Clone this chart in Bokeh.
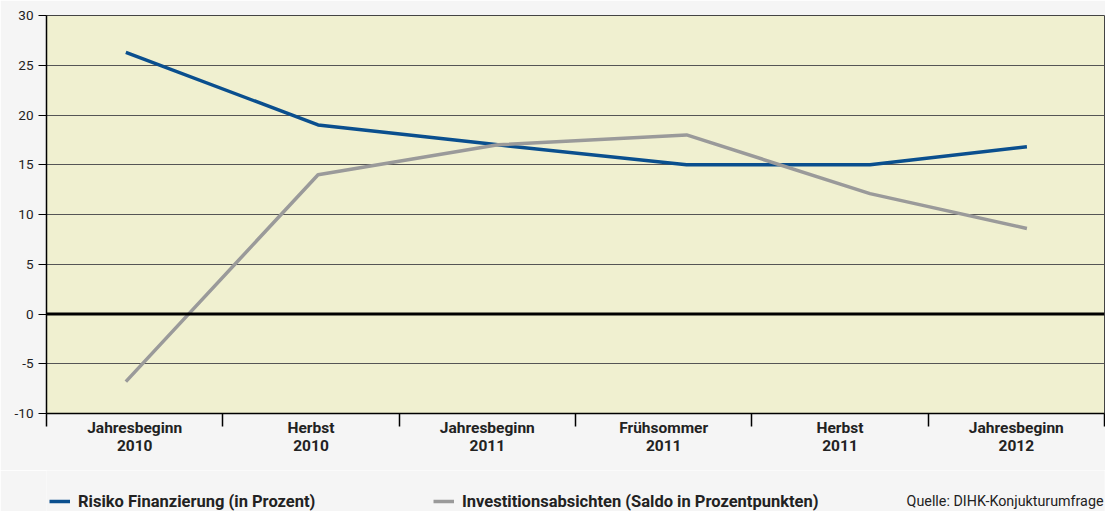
from bokeh.plotting import figure
from bokeh.layouts import column
from bokeh.models import (Range1d, FixedTicker, Span, Legend, LegendItem, Label)
from bokeh.embed import file_html
from bokeh.resources import INLINE

# ---- data ----
categories = ["Jahresbeginn\n2010", "Herbst\n2010", "Jahresbeginn\n2011",
              "Frühsommer\n2011", "Herbst\n2011", "Jahresbeginn\n2012"]
# where each survey sits inside its category slot (category units)
survey_pos = [0.45, 1.54, 2.56, 3.63, 4.67, 5.56]
risiko = [26.3, 19.0, 17.0, 15.0, 15.0, 16.8]
invest = [-6.8, 14.0, 17.0, 18.0, 12.1, 8.6]
y_ticks = [-10, -5, 0, 5, 10, 15, 20, 25, 30]
series_names = ["Risiko Finanzierung (in Prozent)",
                "Investitionsabsichten (Saldo in Prozentpunkten)"]
source_note = "Quelle: DIHK-Konjukturumfrage"

FONT = "Roboto"
BLUE = "#0a4f8e"
GREY = "#9a9a9a"
PAGE = "#f5f5f5"
TXT = "#222222"

n = len(categories)
W = 1105
p = figure(width=W, height=470, output_backend="svg", toolbar_location=None,
           x_range=Range1d(0, n), y_range=Range1d(-10, 30),
           min_border_left=46, min_border_right=1, min_border_top=15,
           min_border_bottom=57)
p.background_fill_color = "#f0f0d0"
p.border_fill_color = PAGE
p.outline_line_color = "#444444"
p.outline_line_width = 1

# grid
p.xgrid.grid_line_color = None
p.ygrid.ticker = FixedTicker(ticks=y_ticks)
p.ygrid.grid_line_color = "#555555"
p.ygrid.grid_line_width = 1

# y axis
p.yaxis.ticker = FixedTicker(ticks=y_ticks)
p.yaxis.major_label_overrides = {t: str(t) for t in y_ticks}
p.yaxis.major_tick_out = 8
p.yaxis.major_tick_in = 0
p.yaxis.minor_tick_line_color = None
p.yaxis.axis_line_color = "black"
p.yaxis.axis_line_width = 1.5
p.yaxis.major_tick_line_color = "black"
p.yaxis.major_label_text_font = FONT
p.yaxis.major_label_text_font_size = "13.5px"
p.yaxis.major_label_text_color = TXT
p.yaxis.major_label_standoff = 5

# x axis: labels at centres, separator ticks at boundaries
centers = [i + 0.5 for i in range(n)]
p.xaxis.ticker = FixedTicker(ticks=centers, minor_ticks=list(range(n + 1)))
p.xaxis.major_label_overrides = {c: lab for c, lab in zip(centers, categories)}
p.xaxis.major_tick_line_color = None
p.xaxis.major_tick_out = 0
p.xaxis.major_tick_in = 0
p.xaxis.minor_tick_line_color = "black"
p.xaxis.minor_tick_line_width = 1.5
p.xaxis.minor_tick_out = 13
p.xaxis.minor_tick_in = 0
p.xaxis.axis_line_color = "black"
p.xaxis.axis_line_width = 1.5
p.xaxis.major_label_text_font = FONT
p.xaxis.major_label_text_font_style = "bold"
p.xaxis.major_label_text_font_size = "15.5px"
p.xaxis.major_label_text_line_height = 1.05
p.xaxis.major_label_text_color = TXT
p.xaxis.major_label_standoff = -8

# zero line
p.add_layout(Span(location=0, dimension="width", line_color="black", line_width=3))

p.line(survey_pos, risiko, line_color=BLUE, line_width=3.5)
p.line(survey_pos, invest, line_color=GREY, line_width=3.5)

# ---- legend row (its frame is aligned with the chart frame by the column) ----
LH = 41
q = figure(width=W, height=LH, output_backend="svg", toolbar_location=None,
           x_range=Range1d(0, 1), y_range=Range1d(0, LH),
           x_axis_location=None, y_axis_location=None,
           min_border=0)
q.grid.grid_line_color = None
q.outline_line_color = None
q.background_fill_color = PAGE
q.border_fill_color = PAGE

nan = float("nan")
lr1 = q.line([nan, nan], [nan, nan], line_color=BLUE, line_width=3.5)
lr2 = q.line([nan, nan], [nan, nan], line_color=GREY, line_width=3.5)

def make_legend(label, rend, loc):
    return Legend(items=[LegendItem(label=label, renderers=[rend])],
                  location=loc, background_fill_alpha=0, border_line_color=None,
                  padding=0, margin=0, glyph_width=21, glyph_height=20,
                  label_standoff=8, label_text_font=FONT,
                  label_text_font_style="bold", label_text_font_size="16.5px",
                  label_text_color=TXT)

q.add_layout(make_legend(series_names[0], lr1, (3, 0)), "center")
q.add_layout(make_legend(series_names[1], lr2, (387, 0)), "center")
q.add_layout(Label(x=1, y=11, x_offset=-1, text=source_note, text_align="right",
                   text_baseline="middle", text_font=FONT,
                   text_font_size="14.3px", text_color=TXT))

layout = column(p, q, spacing=0)
open("out.html", "w").write(file_html(layout, INLINE))
